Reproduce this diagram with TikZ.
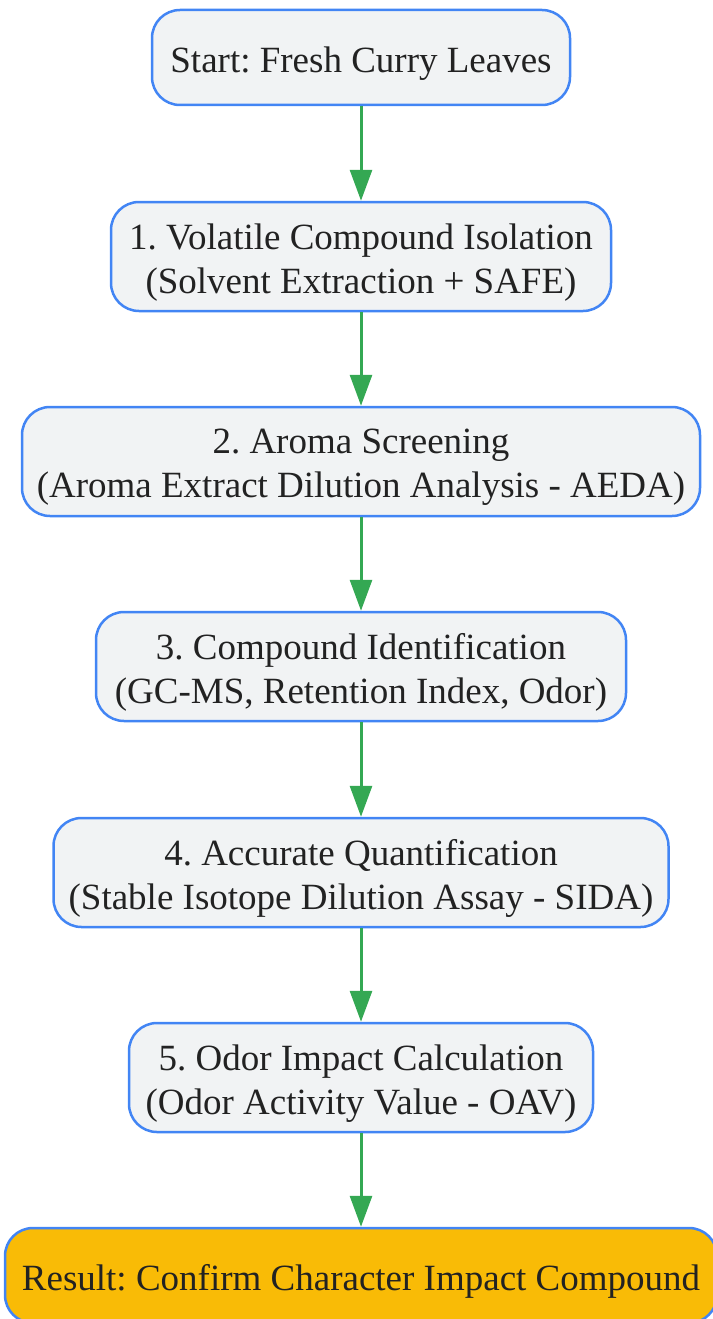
\documentclass[tikz,border=0pt]{standalone}
\usepackage{fontspec}
\setmainfont{Liberation Serif}
\usetikzlibrary{arrows.meta}
\definecolor{stepfill}{HTML}{F1F3F4}
\definecolor{stepline}{HTML}{4285F4}
\definecolor{flowgreen}{HTML}{34A853}
\definecolor{resultfill}{HTML}{F9BB06}
\definecolor{textdark}{HTML}{222222}
\frenchspacing
\begin{document}
\begin{tikzpicture}[x=1pt,y=-1pt,
    stepbox/.style={draw=stepline,line width=2.5pt,fill=stepfill,rounded corners=28pt,inner sep=0pt},
    steptext/.style={align=center,text=textdark,font=\fontsize{37}{44}\selectfont,inner sep=0pt,yshift=-6pt},
    flow/.style={draw=flowgreen,line width=3pt,-{Triangle[width=22pt,length=31pt]}}]
    \useasboundingbox (0,0) rectangle (712,1319);
    \node[stepbox,minimum width=418pt,minimum height=95pt,
      label={[steptext]center:Start: Fresh Curry Leaves}] (start) at (361,57.5) {};
    \node[stepbox,minimum width=500pt,minimum height=109pt,
      label={[steptext]center:1. Volatile Compound Isolation\\(Solvent Extraction + SAFE)}] (iso) at (361,256.5) {};
    \node[stepbox,minimum width=678pt,minimum height=109pt,
      label={[steptext]center:2. Aroma Screening\\(Aroma Extract Dilution Analysis - AEDA)}] (aeda) at (361,461.5) {};
    \node[stepbox,minimum width=530pt,minimum height=109pt,
      label={[steptext]center:3. Compound Identification\\(GC-MS, Retention Index, Odor)}] (ident) at (361,666.5) {};
    \node[stepbox,minimum width=615pt,minimum height=109pt,
      label={[steptext]center:4. Accurate Quantification\\(Stable Isotope Dilution Assay - SIDA)}] (sida) at (361,872.5) {};
    \node[stepbox,minimum width=464pt,minimum height=109pt,
      label={[steptext]center:5. Odor Impact Calculation\\(Odor Activity Value - OAV)}] (oav) at (361,1077.5) {};
    \node[stepbox,fill=resultfill,minimum width=712pt,minimum height=95pt,
      label={[steptext]center:Result: Confirm Character Impact Compound}] (result) at (361,1275.5) {};
    \foreach \a/\b in {start/iso,iso/aeda,aeda/ident,ident/sida,sida/oav,oav/result}{
      \draw[flow] (\a) -- (\b);
    };
  \end{tikzpicture}
\end{document}
